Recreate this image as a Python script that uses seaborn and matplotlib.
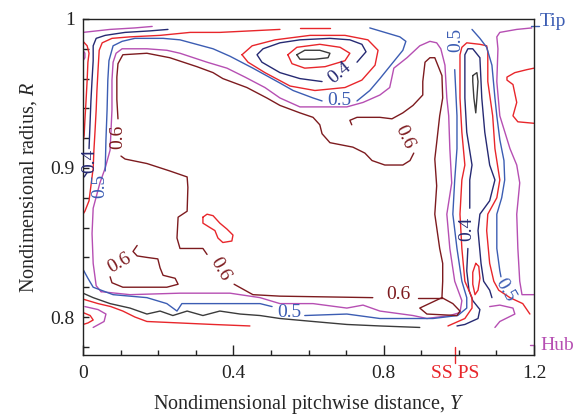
import matplotlib
matplotlib.use("Agg")
import matplotlib.pyplot as plt
from matplotlib.ticker import MultipleLocator, FixedLocator
import pandas as pd
import seaborn as sns

# ---- contour levels and colours ----
palette = {
    "0.30": "#3b3b3b",
    "0.35": "#e8262b",
    "0.40": "#262a73",
    "0.45": "#e8262b",
    "0.50": "#3c5db3",
    "0.55": "#b64fb3",
    "0.60": "#7d1b1f",
    "0.65": "#e8262b",
}

# ---- contour lines (Y = pitchwise, R = radius) ----
# top-left corner / suction side wall
mag_corner_Y = [0, .072, .138, .184]
mag_corner_R = [.991, .993, .994, .995]
red_wall_Y = [0, .011, .016, .013, .011, .008, .005, .003, 0]
red_wall_R = [.985, .982, .977, .971, .959, .945, .932, .922, .917]
mag_dot_Y = [0, .005, .005, 0]
mag_dot_R = [.979, .977, .974, .972]
navy_left_Y = [.226, .178, .112, .059, .035, .027, .027, .024, .021, .019, .016]
navy_left_R = [.993, .992, .991, .989, .987, .982, .972, .959, .945, .932, .913]
navy_tail_Y = [.011, .003]
navy_tail_R = [.897, .894]
red_left_Y = [.524, .444, .364, .285, .205, .125, .077, .051, .043, .040, .037,
              .035, .032, .029, .027, .021, .016, .005, 0]
red_left_R = [.993, .992, .991, .991, .989, .988, .987, .984, .979, .966, .952,
              .939, .925, .912, .900, .888, .878, .871, .869]
red_top_Y = [.577, .657]
red_top_R = [.994, .994]
blue_top_Y = [.059, .061, .064, .066, .069, .080, .104, .138, .213, .258, .346,
              .391, .452, .524, .559, .612, .636]
blue_top_R = [.898, .919, .939, .959, .972, .982, .985, .987, .987, .986, .980,
              .975, .967, .957, .952, .947, .945]
blue_hook_Y = [.729, .763, .790, .822, .851, .859, .843, .803, .763]
blue_hook_R = [.945, .952, .960, .970, .979, .985, .988, .991, .994]

# vortex near the tip
black_core_Y = [.569, .590, .630, .657, .652, .617, .577, .569]
black_core_R = [.976, .979, .979, .977, .974, .973, .973, .976]
red_core_Y = [.545, .569, .630, .684, .710, .697, .644, .590, .556, .545]
red_core_R = [.976, .981, .983, .981, .977, .972, .968, .967, .970, .976]
navy_vortex_Y = [.729, .753, .742, .710, .657, .577, .524, .479, .463, .476,
                 .524, .577, .636]
navy_vortex_R = [.971, .978, .983, .986, .987, .986, .984, .980, .976, .971,
                 .964, .960, .958]
red_vortex_Y = [.423, .450, .511, .604, .697, .758, .785, .777, .742, .697, .617,
                .551, .484, .439, .423]
red_vortex_R = [.976, .982, .986, .989, .989, .986, .979, .969, .959, .954, .952,
                .955, .964, .971, .976]

# 0.55 loop around the core region
mag_loop_Y = [.048, .035, .027, .024, .027, .045, .059, .072, .077, .077, .080,
              .088, .104, .170, .223, .258, .330, .383, .431, .484, .524, .577,
              .638, .702, .745, .790, .816, .822, .827, .862, .896, .923, .941,
              .952, .963, .968, .973, .976, .981, .968, .976, .989, 1.008, 1.003,
              .976, .915, .878, .790, .745, .702, .612, .524, .471, .391, .258,
              .125, .048]
mag_loop_R = [.817, .821, .836, .856, .873, .890, .900, .912, .939, .959, .971,
              .977, .980, .980, .979, .977, .971, .967, .961, .954, .947, .941,
              .941, .941, .944, .949, .954, .961, .967, .974, .982, .985, .984,
              .980, .969, .947, .935, .913, .890, .869, .846, .824, .811, .803,
              .801, .799, .801, .804, .808, .806, .809, .809, .813, .816, .816,
              .815, .817]

# 0.6 contour pieces
maroon_a_Y = [.093, .090, .090, .093, .106, .170, .231, .303, .346, .372, .436,
              .489, .524, .577, .612, .630, .636, .657, .718, .750, .769, .803,
              .851, .870, .880]
maroon_a_R = [.933, .946, .961, .970, .976, .977, .974, .968, .964, .960, .954,
              .947, .942, .937, .934, .929, .923, .917, .914, .910, .905, .902,
              .902, .905, .910]
maroon_b_Y = [.101, .112, .170, .231, .277, .279, .277, .253, .250, .258, .319, .330]
maroon_b_R = [.908, .906, .903, .898, .894, .887, .871, .867, .853, .846, .846, .842]
maroon_c_Y = [.402, .452, .524, .771]
maroon_c_R = [.822, .815, .814, .813]
maroon_d_Y = [.891, .955]
maroon_d_R = [.813, .813]
maroon_finger_Y = [.715, .710, .729, .790, .822, .851, .878, .904, .904, .910,
                   .923, .936, .955, .957, .949, .941, .936, .941, .936, .949,
                   .957, .957, .955, .896, .915, .995, 1.003, .984, .955]
maroon_finger_R = [.929, .932, .934, .934, .933, .937, .942, .949, .958, .971,
                   .974, .974, .962, .947, .935, .917, .906, .888, .869, .846,
                   .836, .824, .813, .806, .802, .801, .804, .809, .813]
maroon_hook_Y = [.144, .133, .144, .170, .199, .205, .213, .245, .253, .223, .170,
                 .106, .077, .072]
maroon_hook_R = [.848, .844, .841, .840, .839, .833, .828, .826, .822, .820, .820,
                 .820, .823, .827]
red_island_Y = [.319, .330, .346, .364, .383, .399, .396, .372, .359, .351, .338,
                .319, .319]
red_island_R = [.867, .869, .868, .863, .859, .855, .851, .850, .853, .858, .860,
                .863, .867]

# hub endwall
blue_hub_Y = [0, .013, .027, .080, .170, .223, .250, .263, .303, .391, .471, .503]
blue_hub_R = [.832, .826, .820, .815, .813, .809, .804, .809, .809, .809, .809, .807]
blue_ss_Y = [.590, .702, .790, .878, .931, .997, 1.021, 1.021, 1.008, .995, .984,
             .989, .995, .995, .989]
blue_ss_R = [.801, .802, .799, .799, .799, .801, .806, .813, .824, .846, .869,
             .892, .913, .935, .966]
black_hub_Y = [0, .027, .072, .125, .170, .205, .239, .277, .319, .364, .418,
               .471, .524, .612, .702, .790, .896]
black_hub_R = [.816, .813, .809, .806, .802, .804, .801, .804, .801, .804, .802,
               .801, .799, .797, .795, .794, .793]
red_hub_Y = [0, .040, .074, .106, .138, .170, .258, .346, .444]
red_hub_R = [.812, .809, .807, .804, .800, .797, .796, .795, .794]
red_corner_Y = [0, .019, .027, .013, 0]
red_corner_R = [.803, .801, .798, .796, .795]
mag_corner2_Y = [.005, .040, .061, .056, .027]
mag_corner2_R = [.807, .805, .802, .797, .793]

# blade / pressure side region
red_blade_Y = [.971, 1.016, 1.035, 1.035, 1.016, 1.008, 1.003, 1.008, 1.016,
               1.008, 1.003, 1.003, 1.008, 1.021, 1.056, 1.074, 1.077, 1.077,
               1.090, 1.096, 1.109, 1.101, 1.077, 1.074, 1.082, 1.093, 1.106,
               1.136, 1.170, 1.189]
red_blade_R = [.794, .799, .806, .813, .824, .846, .869, .892, .902, .924, .947,
               .976, .981, .984, .983, .982, .978, .958, .935, .913, .892, .880,
               .869, .858, .836, .824, .818, .813, .809, .802]
navy_blade_lo_Y = [.995, 1.016, 1.051, 1.056, 1.037, 1.027, 1.021, 1.024]
navy_blade_lo_R = [.794, .795, .799, .805, .811, .818, .831, .846]
navy_blade_Y = [1.029, 1.029, 1.035, 1.021, 1.016, 1.016, 1.024, 1.037, 1.056,
                1.061, 1.069, 1.082, 1.096, 1.082, 1.056, 1.051, 1.059, 1.066,
                1.082, 1.088]
navy_blade_R = [.873, .892, .902, .924, .947, .976, .980, .980, .974, .947, .924,
                .902, .892, .878, .869, .858, .836, .824, .818, .813]
black_blade_Y = [1.037, 1.048, 1.051, 1.048, 1.045, 1.040, 1.037, 1.037]
black_blade_R = [.962, .964, .958, .947, .937, .947, .958, .962]
red_blade_core_Y = [1.045, 1.053, 1.056, 1.051, 1.043, 1.037, 1.037, 1.045]
red_blade_core_R = [.836, .834, .826, .818, .815, .822, .830, .836]
blue_ps_Y = [1.035, 1.056, 1.074, 1.088, 1.096, 1.101, 1.109, 1.120, 1.122,
             1.114, 1.101, 1.101, 1.109, 1.112]
blue_ps_R = [.993, .987, .981, .969, .947, .935, .919, .905, .892, .880, .869,
             .846, .831, .827]
mag_ps_Y = [1.194, 1.154, 1.109, 1.101, 1.104, 1.101, 1.109, 1.136, 1.154, 1.162,
            1.154, 1.157, 1.162, 1.168, 1.2]
mag_ps_R = [.994, .993, .991, .988, .980, .958, .935, .913, .902, .890, .869,
            .846, .824, .815, .815]
mag_curl_Y = [1.082, 1.109, 1.144, 1.149, 1.109, 1.096]
mag_curl_R = [.807, .808, .806, .802, .797, .793]
red_ps_Y = [1.2, 1.181, 1.149, 1.128, 1.128, 1.144, 1.154, 1.144, 1.157, 1.2]
red_ps_R = [.967, .966, .964, .961, .959, .956, .944, .935, .931, .930]

contours = [
    ("0.55", mag_corner_Y, mag_corner_R), ("0.35", red_wall_Y, red_wall_R),
    ("0.55", mag_dot_Y, mag_dot_R), ("0.40", navy_left_Y, navy_left_R),
    ("0.40", navy_tail_Y, navy_tail_R), ("0.45", red_left_Y, red_left_R),
    ("0.45", red_top_Y, red_top_R), ("0.50", blue_top_Y, blue_top_R),
    ("0.50", blue_hook_Y, blue_hook_R), ("0.30", black_core_Y, black_core_R),
    ("0.35", red_core_Y, red_core_R), ("0.40", navy_vortex_Y, navy_vortex_R),
    ("0.45", red_vortex_Y, red_vortex_R), ("0.55", mag_loop_Y, mag_loop_R),
    ("0.60", maroon_a_Y, maroon_a_R), ("0.60", maroon_b_Y, maroon_b_R),
    ("0.60", maroon_c_Y, maroon_c_R), ("0.60", maroon_d_Y, maroon_d_R),
    ("0.60", maroon_finger_Y, maroon_finger_R), ("0.60", maroon_hook_Y, maroon_hook_R),
    ("0.65", red_island_Y, red_island_R), ("0.50", blue_hub_Y, blue_hub_R),
    ("0.50", blue_ss_Y, blue_ss_R), ("0.30", black_hub_Y, black_hub_R),
    ("0.35", red_hub_Y, red_hub_R), ("0.35", red_corner_Y, red_corner_R),
    ("0.55", mag_corner2_Y, mag_corner2_R), ("0.45", red_blade_Y, red_blade_R),
    ("0.40", navy_blade_lo_Y, navy_blade_lo_R), ("0.40", navy_blade_Y, navy_blade_R),
    ("0.30", black_blade_Y, black_blade_R), ("0.35", red_blade_core_Y, red_blade_core_R),
    ("0.50", blue_ps_Y, blue_ps_R), ("0.55", mag_ps_Y, mag_ps_R),
    ("0.55", mag_curl_Y, mag_curl_R), ("0.45", red_ps_Y, red_ps_R),
]

# inline contour labels: text, Y, R, rotation
label_text = ["0.4", "0.5", "0.6", "0.4", "0.5", "0.6", "0.5", "0.4", "0.5",
              "0.6", "0.6", "0.6", "0.5"]
label_Y = [.019, .045, .093, .684, .681, .854, .992, 1.021, 1.122, .096, .364, .838, .548]
label_R = [.905, .888, .921, .964, .945, .921, .986, .859, .818, .836, .832, .815, .803]
label_rot = [90, 90, 90, 40, 0, -65, 90, 90, -60, 30, -60, 0, 0]

ss_ps_Y = 0.99
tip_R = 0.995
hub_R = 0.781

frames = []
for i, (lev, ys, rs) in enumerate(contours):
    frames.append(pd.DataFrame({"Y": ys, "R": rs, "level": lev, "line": i}))
df = pd.concat(frames, ignore_index=True)

sns.set_style("ticks")
plt.rcParams["font.family"] = ["Liberation Serif", "DejaVu Serif"]
plt.rcParams["mathtext.fontset"] = "custom"
plt.rcParams["mathtext.rm"] = "Liberation Serif"
plt.rcParams["mathtext.it"] = "Liberation Serif:italic"

fig = plt.figure(figsize=(5.88, 4.19), dpi=100)
ax = fig.add_axes([0.1412, 0.1527, 0.7670, 0.8020])

sns.lineplot(data=df, x="Y", y="R", hue="level", units="line", estimator=None,
             sort=False, palette=palette, legend=False, linewidth=1.0, ax=ax)

for t, x, y, r in zip(label_text, label_Y, label_R, label_rot):
    lev = {"0.4": "0.40", "0.5": "0.50", "0.6": "0.60"}[t]
    ax.text(x, y, t, color=palette[lev], rotation=r, rotation_mode="anchor",
            ha="center", va="center", fontsize=14)

ax.set_xlim(0, 1.2)
ax.set_ylim(0.7745, 1.0)
ax.xaxis.set_major_locator(FixedLocator([0, 0.4, 0.8, 1.2]))
ax.set_xticklabels(["0", "0.4", "0.8", "1.2"])
ax.xaxis.set_minor_locator(MultipleLocator(0.1))
ax.yaxis.set_major_locator(FixedLocator([0.8, 0.9, 1.0]))
ax.set_yticklabels(["0.8", "0.9", "1"])
ax.yaxis.set_minor_locator(MultipleLocator(0.02))
ax.tick_params(axis="both", which="both", direction="in", top=False, right=False,
               labelsize=14, width=1, colors="#222222")
ax.tick_params(axis="x", which="major", length=7, pad=7)
ax.tick_params(axis="x", which="minor", length=3.5)
ax.tick_params(axis="y", which="both", length=4, pad=6)
for s in ax.spines.values():
    s.set_linewidth(1.0)
    s.set_color("#222222")

ax.set_xlabel("Nondimensional pitchwise distance, $Y$", fontsize=14.5, labelpad=8)
ax.set_ylabel("Nondimensional radius, $R$", fontsize=14.5, labelpad=8)

# suction / pressure side marker
ax.plot([ss_ps_Y, ss_ps_Y], [-0.024, 0.024], transform=ax.get_xaxis_transform(),
        clip_on=False, color="#e8262b", lw=1)
ax.annotate("SS PS", xy=(ss_ps_Y, 0), xycoords=("data", "axes fraction"),
            xytext=(0, -7), textcoords="offset points", ha="center", va="top",
            color="#e8262b", fontsize=14)
# tip / hub markers
ax.plot([1.193, 1.212], [tip_R, tip_R], clip_on=False, color="#3c5db3", lw=1)
ax.text(1.215, tip_R + 0.003, "Tip", color="#3c5db3", fontsize=14, va="center",
        ha="left", clip_on=False)
ax.plot([1.188, 1.2], [hub_R, hub_R], clip_on=False, color="#b64fb3", lw=1)
ax.text(1.217, hub_R, "Hub", color="#b64fb3", fontsize=14, va="center",
        ha="left", clip_on=False)

fig.savefig("out.png", dpi=100)
